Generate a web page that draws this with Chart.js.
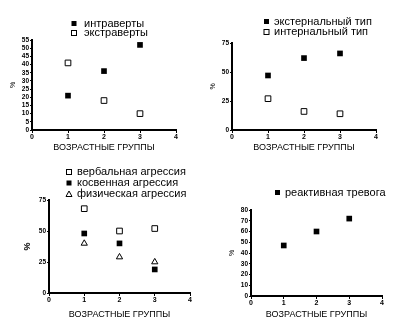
<!DOCTYPE html>
<html>
<head>
<meta charset="utf-8">
<script src="https://cdn.jsdelivr.net/npm/chart.js@4.4.1/dist/chart.umd.min.js"></script>
<style>
  html, body { margin: 0; padding: 0; background: #fff; }
  #wrap { position: relative; width: 412px; height: 335px; overflow: hidden; }
  .cell { position: absolute; }
</style>
</head>
<body>
<div id="wrap">
  <div class="cell" style="left:0;top:0"><canvas id="chartTL" width="206" height="167"></canvas></div>
  <div class="cell" style="left:206px;top:0"><canvas id="chartTR" width="206" height="167"></canvas></div>
  <div class="cell" style="left:0;top:167px"><canvas id="chartBL" width="206" height="168"></canvas></div>
  <div class="cell" style="left:206px;top:167px"><canvas id="chartBR" width="206" height="168"></canvas></div>
</div>
<script>
// age groups on the x axis
var groups = [1, 2, 3];
var xTicks = [0, 1, 2, 3, 4];
var xTitle = 'ВОЗРАСТНЫЕ ГРУППЫ';
var yTitle = '%';

// top left: intro / extraversion
var introverts = [21, 36, 52];
var extraverts = [41, 18, 10];

// top right: locus of control
var externalType = [47, 62, 66];
var internalType = [27, 16, 14];

// bottom left: aggression
var verbalAggr = [68, 50, 52];
var indirectAggr = [48, 40, 19];
var physicalAggr = [40, 29, 25];

// bottom right: reactive anxiety
var reactiveAnxiety = [47, 60, 72];

var FONT = "'Liberation Sans', Arial, sans-serif";

function pts(values) {
  return values.map(function (v, i) {
    return { x: groups[i], y: v };
  });
}

function series(label, values, kind) {
  var filled = kind === 'filled';
  return {
    label: label,
    data: pts(values),
    pointStyle: kind === 'triangle' ? 'triangle' : 'rect',
    pointRadius: kind === 'triangle' ? 3.6 : 4,
    pointHoverRadius: 4,
    backgroundColor: filled ? '#000' : '#fff',
    borderColor: '#000',
    borderWidth: filled ? 0 : 1,
    kind: kind
  };
}

function drawMarker(ctx, kind, x, y) {
  ctx.save();
  ctx.fillStyle = '#000';
  ctx.strokeStyle = '#000';
  ctx.lineWidth = 1;
  if (kind === 'filled') {
    ctx.fillRect(x - 2.5, y - 2.5, 5, 5);
  } else if (kind === 'open') {
    ctx.strokeRect(x - 2.5, y - 2.5, 5, 5);
  } else {
    ctx.beginPath();
    ctx.moveTo(x, y - 3);
    ctx.lineTo(x + 3, y + 2.5);
    ctx.lineTo(x - 3, y + 2.5);
    ctx.closePath();
    ctx.stroke();
  }
  ctx.restore();
}

var markerLegend = {
  id: 'markerLegend',
  afterDraw: function (chart, args, opts) {
    var ctx = chart.ctx;
    ctx.save();
    ctx.font = opts.font;
    ctx.fillStyle = '#000';
    ctx.textBaseline = 'middle';
    ctx.textAlign = 'left';
    chart.data.datasets.forEach(function (ds, i) {
      var y = opts.y + i * opts.row;
      drawMarker(ctx, ds.kind, opts.x, y);
      ctx.fillText(ds.label, opts.textX, y);
    });
    ctx.restore();
  }
};

function makeChart(id, datasets, box, yAxis, legend) {
  var canvas = document.getElementById(id);
  var H = canvas.height;
  return new Chart(canvas, {
    type: 'scatter',
    data: { datasets: datasets },
    plugins: [markerLegend],
    options: {
      responsive: false,
      animation: false,
      events: [],
      layout: { padding: { left: 0, top: box.top, right: canvas.width - box.right, bottom: 0 } },
      plugins: {
        legend: { display: false },
        tooltip: { enabled: false },
        markerLegend: legend
      },
      scales: {
        x: {
          type: 'linear',
          min: 0,
          max: 4,
          afterBuildTicks: function (s) { s.ticks = xTicks.map(function (v) { return { value: v }; }); },
          afterFit: function (s) { s.height = H - box.bottom; },
          border: { color: '#000', width: 2 },
          grid: { drawOnChartArea: false, drawTicks: true, tickLength: 3, color: '#000', lineWidth: 1 },
          ticks: { color: '#000', padding: 0, autoSkip: false, maxRotation: 0, font: { family: FONT, size: 7, weight: 'bold' } },
          title: {
            display: true,
            text: xTitle,
            color: '#000',
            font: { family: FONT, size: 9 },
            padding: { top: 0, bottom: box.titleBottom }
          }
        },
        y: {
          type: 'linear',
          min: 0,
          max: yAxis.max,
          ticks: { stepSize: yAxis.step, autoSkip: false, color: '#000', padding: 1, font: { family: FONT, size: 6.5, weight: 'bold' } },
          afterFit: function (s) { s.width = box.left; },
          border: { color: '#000', width: 2 },
          grid: { drawOnChartArea: false, drawTicks: true, tickLength: 2, color: '#000', lineWidth: 1 },
          title: {
            display: true,
            text: yTitle,
            color: '#000',
            font: { family: FONT, size: yAxis.titleSize, weight: yAxis.titleWeight },
            padding: { top: yAxis.titlePad, bottom: 0 }
          }
        }
      }
    }
  });
}

var LEGEND_FONT = '11px ' + FONT;

makeChart('chartTL',
  [series('интраверты', introverts, 'filled'), series('экстраверты', extraverts, 'open')],
  { left: 32, right: 176, top: 40, bottom: 130, titleBottom: 14 },
  { max: 55, step: 5, titleSize: 7, titleWeight: 'normal', titlePad: 8.5 },
  { x: 74, textX: 84, y: 23.5, row: 9.5, font: LEGEND_FONT });

makeChart('chartTR',
  [series('экстернальный тип', externalType, 'filled'), series('интернальный тип', internalType, 'open')],
  { left: 26, right: 170, top: 43, bottom: 130, titleBottom: 14 },
  { max: 75, step: 25, titleSize: 7, titleWeight: 'normal', titlePad: 3 },
  { x: 60.5, textX: 68, y: 21.5, row: 10.5, font: LEGEND_FONT });

makeChart('chartBL',
  [series('вербальная агрессия', verbalAggr, 'open'), series('косвенная агрессия', indirectAggr, 'filled'), series('физическая агрессия', physicalAggr, 'triangle')],
  { left: 49, right: 190, top: 33, bottom: 126, titleBottom: 15 },
  { max: 75, step: 25, titleSize: 9, titleWeight: 'bold', titlePad: 22.5 },
  { x: 69, textX: 77, y: 5, row: 11, font: LEGEND_FONT });

makeChart('chartBR',
  [series('реактивная тревога', reactiveAnxiety, 'filled')],
  { left: 45, right: 176, top: 43, bottom: 129, titleBottom: 15 },
  { max: 80, step: 10, titleSize: 7, titleWeight: 'normal', titlePad: 21.5 },
  { x: 71.5, textX: 79, y: 25.5, row: 10, font: LEGEND_FONT });
</script>
</body>
</html>
